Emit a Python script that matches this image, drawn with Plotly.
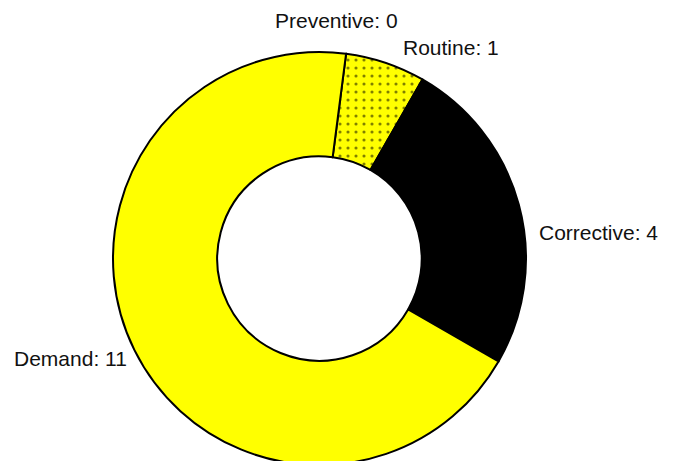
import plotly.graph_objects as go

# slice data, clockwise from just right of 12 o'clock
labels = ["Preventive", "Routine", "Corrective", "Demand"]
values = [0, 1, 4, 11]
colors = ["#FFFF00", "#FFFF00", "#000000", "#FFFF00"]
patterns = ["", ".", "", ""]

W, H = 675, 461
M = dict(l=3, r=55, t=44, b=4)
PAGE_OFFSET = 8  # default body margin of the html page

# outside label centres in page pixels
label_px = [(336, 21), (451, 47), (598, 232), (70, 358)]


def to_paper(px, py):
    w = W - M["l"] - M["r"]
    h = H - M["t"] - M["b"]
    px, py = px - PAGE_OFFSET, py - PAGE_OFFSET
    return (px - M["l"]) / w, 1 - (py - M["t"]) / h


fig = go.Figure()
fig.add_trace(go.Pie(
    labels=labels,
    values=values,
    hole=0.495,
    sort=False,
    direction="clockwise",
    rotation=7.4,
    textinfo="none",
    hoverinfo="label+value",
    showlegend=False,
    marker=dict(
        colors=colors,
        line=dict(color="#000000", width=2),
        pattern=dict(shape=patterns, fgcolor="#000000", bgcolor=colors,
                     size=8, solidity=0.12, fillmode="overlay"),
    ),
))

for lab, val, (px, py) in zip(labels, values, label_px):
    x, y = to_paper(px, py)
    fig.add_annotation(x=x, y=y, xref="paper", yref="paper", text=f"{lab}: {val}",
                       showarrow=False, xanchor="center", yanchor="middle",
                       font=dict(family="Liberation Sans, Arial", size=21, color="#111111"))

fig.update_layout(
    width=W, height=H,
    margin=M,
    paper_bgcolor="white", plot_bgcolor="white",
)
fig.write_html("out.html")
